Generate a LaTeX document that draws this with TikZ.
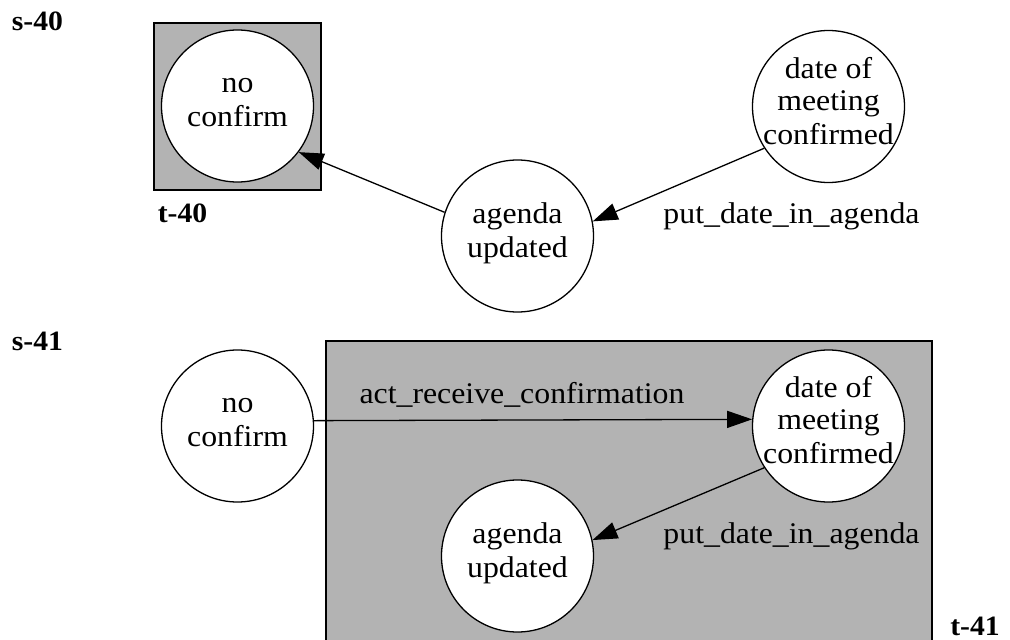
\documentclass[tikz,border=0pt]{standalone}
\usepackage{fontspec}
\setmainfont{Liberation Serif}[FakeStretch=1.06]
\usetikzlibrary{arrows.meta}
\definecolor{clgray}{HTML}{B3B3B3}
\newcommand{\ls}{\rule[-12pt]{0pt}{31pt}}
\begin{document}
\begin{tikzpicture}[x=1pt, y=-1pt, line width=1.3pt,
  state/.style={circle, draw, fill=white, minimum size=152pt, inner sep=-20pt, align=center,
    font=\fontsize{30}{32}\selectfont},
  lbl/.style={anchor=base, inner sep=0pt, font=\fontsize{30}{32}\selectfont},
  tag/.style={anchor=base, inner sep=0pt, font=\bfseries\fontsize{28}{32}\selectfont},
  cluster/.style={draw, fill=clgray},
  trans/.style={-{Triangle[length=25pt,width=17pt]}}]
\useasboundingbox (0,0) rectangle (1010,640);
\clip (0,0) rectangle (1010,640);
% clusters
\draw[cluster] (154,23) rectangle (321,190);
\draw[cluster] (326,341) rectangle (932,680);
% top state s-40
\node[tag] (s40) at (37.5,30) {s-40};
\node[tag] (t40) at (182.5,222) {t-40};
\node[state] (nc1) at (237.5,106) {\ls no\\\ls confirm};
\node[state] (dm1) at (828.5,106.5) {\ls date of\\\ls meeting\\\ls confirmed};
\node[state] (au1) at (517.5,236) {\ls agenda\\\ls updated};
\draw[trans] (au1.162.7) -- (nc1.323);
\draw[trans] (dm1.213) -- (au1.11);
\node[lbl] (p1) at (791.5,223) {put\_date\_in\_agenda};
% bottom state s-41
\node[tag] (s41) at (37.5,350) {s-41};
\node[tag] (t41) at (975,635) {t-41};
\node[state] (nc2) at (237.5,426) {\ls no\\\ls confirm};
\node[state] (dm2) at (828.5,426) {\ls date of\\\ls meeting\\\ls confirmed};
\node[state] (au2) at (517.5,556) {\ls agenda\\\ls updated};
\draw[trans] (nc2.4.5) -- (dm2.175.5);
\draw[trans] (dm2.213) -- (au2.12);
\node[lbl] (a1) at (522,403) {act\_receive\_confirmation};
\node[lbl] (p2) at (791.5,543) {put\_date\_in\_agenda};
\end{tikzpicture}
\end{document}
